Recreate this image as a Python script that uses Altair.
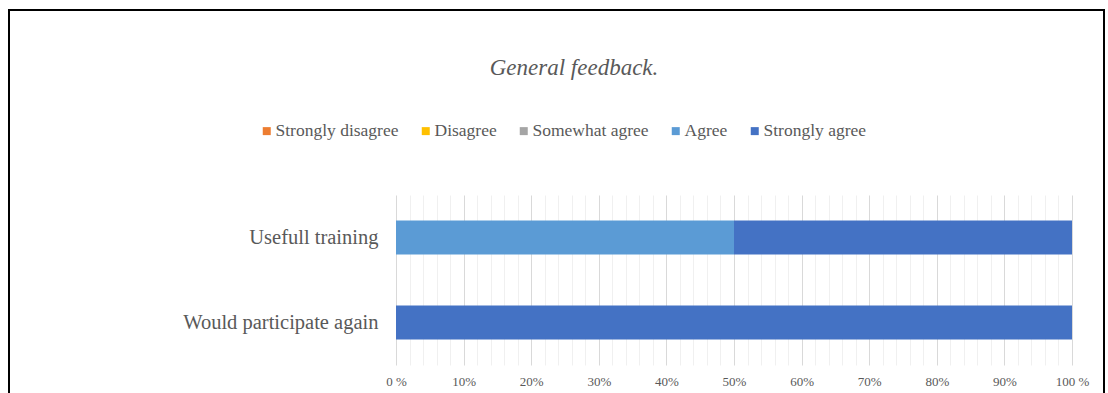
import altair as alt
import pandas as pd

questions = ["Usefull training", "Usefull training", "Would participate again"]
responses = ["Agree", "Strongly agree", "Strongly agree"]
shares = [0.5, 0.5, 1.0]

categories = ["Strongly disagree", "Disagree", "Somewhat agree", "Agree", "Strongly agree"]
colors = ["#ED7D31", "#FFC000", "#A5A5A5", "#5B9BD5", "#4472C4"]
question_order = ["Usefull training", "Would participate again"]
tick_labels = ["0 %", "10%", "20%", "30%", "40%", "50%", "60%", "70%", "80%", "90%", "100 %"]

df = pd.DataFrame({"question": questions, "response": responses, "share": shares})
df["order"] = [categories.index(r) for r in responses]

grid_values = [i / 50 for i in range(51)]
label_map = "{" + ",".join(f"'{i*10}':'{t}'" for i, t in enumerate(tick_labels)) + "}"
label_expr = f"(round(datum.value*100) % 10 == 0) ? {label_map}[''+round(datum.value*100)] : ''"

font = "Liberation Serif"
txt = "#595959"

bars = alt.Chart(df).mark_bar(size=34).encode(
    x=alt.X("share:Q", stack="zero", scale=alt.Scale(domain=[0, 1], nice=False),
            axis=alt.Axis(values=grid_values, labelExpr=label_expr, title=None,
                          domain=False, ticks=False, labelFont=font, labelFontSize=13,
                          labelColor=txt, labelPadding=10, labelOverlap=False,
                          labelFlush=False,
                          gridColor={"condition": {"test": "round(datum.value*100) % 10 == 0", "value": "#d9d9d9"}, "value": "#f0f0f0"},
                          gridWidth=1)),
    y=alt.Y("question:N", sort=question_order, title=None,
            scale=alt.Scale(paddingInner=0.6, paddingOuter=0.3),
            axis=alt.Axis(domain=False, ticks=False, labelFont=font, labelFontSize=20.5,
                          labelColor=txt, labelPadding=18, labelLimit=400)),
    color=alt.Color("response:N", scale=alt.Scale(domain=categories, range=colors),
                    legend=alt.Legend(title=None, orient="none", direction="horizontal",
                                      legendX=-138, legendY=-73, labelFont=font,
                                      labelFontSize=17.5, labelColor=txt, symbolType="square",
                                      symbolSize=64, symbolStrokeWidth=0, columnPadding=18,
                                      labelOffset=0)),
    order=alt.Order("order:Q"),
)

border = alt.Chart(pd.DataFrame({"a": [0]})).mark_rect(
    filled=False, stroke="black", strokeWidth=2
).encode(x=alt.value(-387), x2=alt.value(708), y=alt.value(-185), y2=alt.value(230))

chart = alt.layer(bars, border).properties(
    width=676, height=170,
    autosize=alt.AutoSizeParams(type="none"),
    padding={"left": 396, "top": 195, "right": 36, "bottom": 28},
    title=alt.TitleParams("General feedback.", font=font, fontSize=23, fontStyle="italic",
                          fontWeight="normal", color=txt, anchor="middle", frame="group",
                          baseline="alphabetic", dx=-160, offset=0, dy=89),
).configure(font=font).configure_legend(labelFont=font).configure_view(stroke=None)

chart.save("out.html", embed_options={"renderer": "svg", "actions": False})
